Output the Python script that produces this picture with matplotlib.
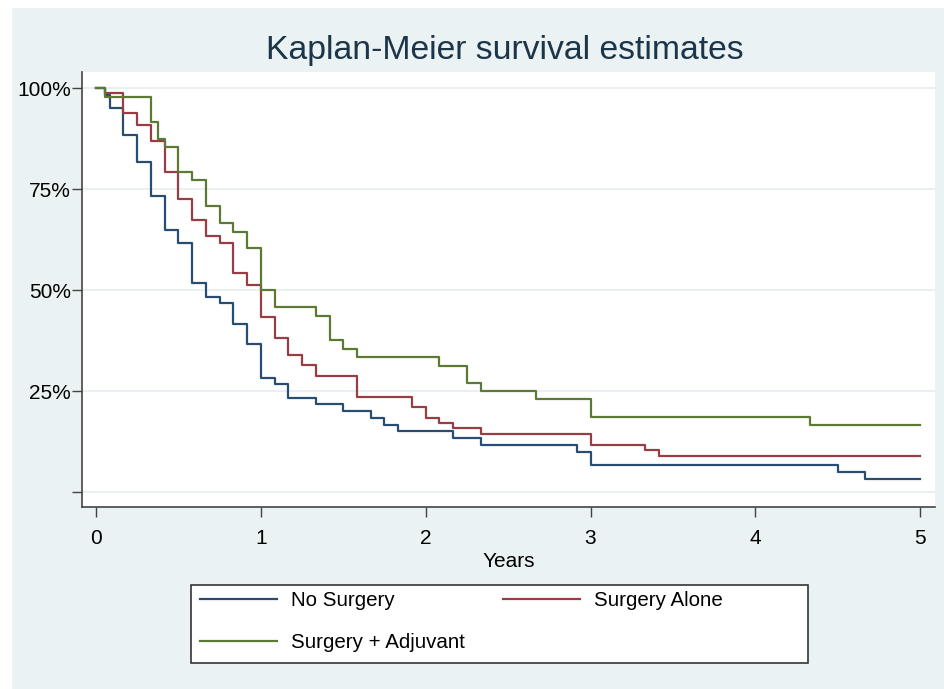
import matplotlib
matplotlib.use("Agg")
import matplotlib.pyplot as plt
from matplotlib.patches import Rectangle

plt.rcParams['font.family'] = ['Liberation Sans', 'DejaVu Sans']

# ---- data (time in months, survival in %) ----
groups = ["No Surgery", "Surgery Alone", "Surgery + Adjuvant"]

t_no_surgery = [0, 0.66, 1, 2, 3, 4, 5, 6, 7, 8, 9, 10, 11, 12, 13, 14, 16, 18, 20, 21, 22, 26, 28, 35, 36, 54, 56, 60]
s_no_surgery = [100, 98.3, 95.0, 88.3, 81.7, 73.3, 65.0, 61.7, 51.7, 48.3, 46.7, 41.7, 36.7, 28.3, 26.7, 23.3,
                21.7, 20.0, 18.3, 16.7, 15.0, 13.3, 11.7, 10.0, 6.7, 5.0, 3.3, 3.3]

t_surgery_alone = [0, 0.66, 2, 3, 4, 5, 6, 7, 8, 9, 10, 11, 12, 13, 14, 15, 16, 19, 23, 24, 25, 26, 28, 36, 40, 41, 60]
s_surgery_alone = [100, 98.8, 93.8, 91.0, 86.9, 79.2, 72.5, 67.3, 63.4, 61.6, 54.2, 51.2, 43.3, 38.1, 33.9, 31.4,
                   28.7, 23.5, 21.0, 18.3, 17.1, 15.8, 14.4, 11.7, 10.4, 8.9, 8.9]

t_surgery_adj = [0, 0.66, 4, 4.5, 5, 6, 7, 8, 9, 10, 11, 12, 13, 16, 17, 18, 19, 25, 27, 28, 32, 36, 52, 60]
s_surgery_adj = [100, 97.9, 91.6, 87.4, 85.4, 79.2, 77.2, 70.8, 66.6, 64.4, 60.4, 50.0, 45.8, 43.6, 37.6, 35.4,
                 33.4, 31.2, 27.0, 25.0, 23.0, 18.6, 16.6, 16.6]

x_ticks = [0, 1, 2, 3, 4, 5]
y_ticks = [0, 25, 50, 75, 100]
y_tick_labels = ["", "25%", "50%", "75%", "100%"]

colors = ["#274e72", "#973d43", "#5c7a34"]

W, H = 944, 689
fig = plt.figure(figsize=(W / 100, H / 100), dpi=100)
fig.patch.set_facecolor("white")
fig.add_artist(Rectangle((12 / W, 0), 1 - 12 / W, 1 - 8 / H, transform=fig.transFigure,
                         facecolor="#eaf2f3", edgecolor="none", zorder=-10))

ax = fig.add_axes([82 / W, 1 - 507 / H, 853 / W, 435 / H])
ax.set_facecolor("white")

series = [(t_no_surgery, s_no_surgery), (t_surgery_alone, s_surgery_alone), (t_surgery_adj, s_surgery_adj)]
lines = []
for (t, s), c, lab in zip(series, colors, groups):
    ln, = ax.step([v / 12 for v in t], s, where="post", color=c, lw=1.6, label=lab, zorder=3)
    lines.append(ln)

ax.set_xlim(-0.085, 5.09)
ax.set_ylim(-3.7, 104)
ax.set_xticks(x_ticks)
ax.set_xticklabels([str(v) for v in x_ticks], fontsize=15)
ax.set_yticks(y_ticks)
ax.set_yticklabels(y_tick_labels, fontsize=15)
ax.tick_params(axis="y", length=7, width=1, color="#444444", pad=1)
ax.tick_params(axis="x", length=7, width=1, color="#444444", pad=9)
ax.grid(axis="y", color="#e6eeef", lw=1.2, zorder=0)
for side in ["top", "right"]:
    ax.spines[side].set_visible(False)
for side in ["left", "bottom"]:
    ax.spines[side].set_color("#444444")
    ax.spines[side].set_linewidth(1.2)
ax.set_xlabel("Years", fontsize=15, labelpad=3)

fig.text(505 / W, 1 - 50 / H, "Kaplan-Meier survival estimates", ha="center", va="center",
         fontsize=24.3, color="#1c3548")

# legend frame
fig.add_artist(Rectangle((191 / W, 1 - 663 / H), 617 / W, 78 / H, transform=fig.transFigure,
                         facecolor="white", edgecolor="#333333", lw=1.2, zorder=1))
# order so rows read: No Surgery, Surgery Alone / Surgery + Adjuvant
order = [0, 2, 1]
leg = fig.legend([lines[i] for i in order], [groups[i] for i in order], loc="upper left",
                 bbox_to_anchor=(196 / W, 1 - 587 / H), ncol=2,
                 frameon=False, fontsize=14.8, handlelength=3.75, handletextpad=0.68,
                 columnspacing=1.85, labelspacing=1.12, borderpad=0.2, borderaxespad=0)
leg.set_zorder(2)

fig.savefig("out.png", dpi=100, facecolor=fig.get_facecolor())
